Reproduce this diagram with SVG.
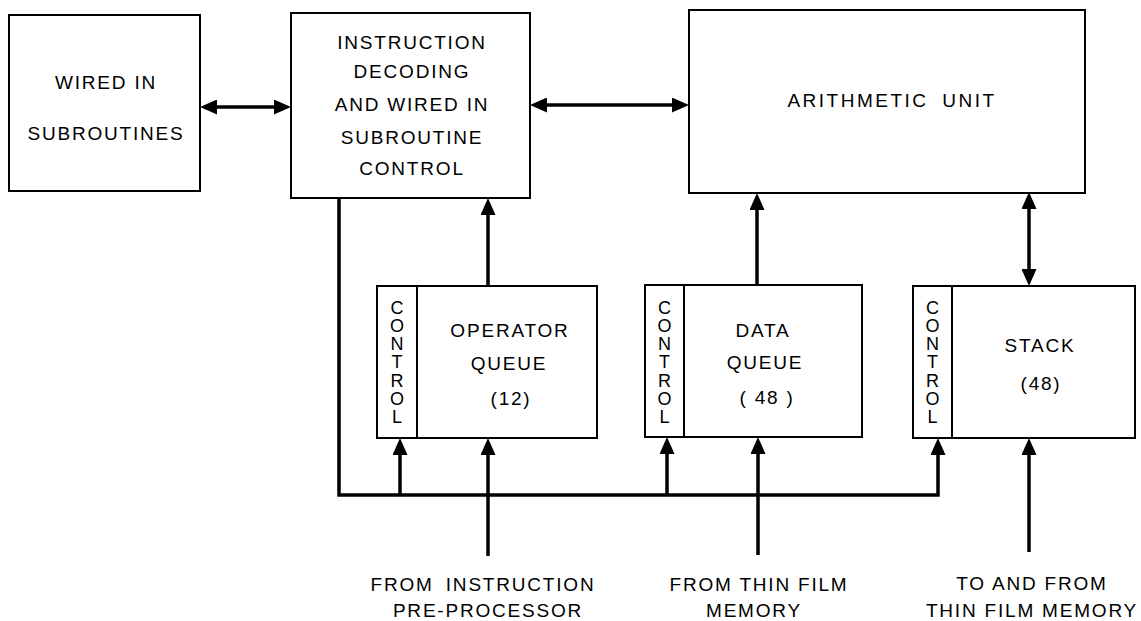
<svg xmlns="http://www.w3.org/2000/svg" width="1141" height="621" viewBox="0 0 1141 621">
<style>
  .box { fill: #ffffff; stroke: #000000; stroke-width: 2; }
  .t { font-family: "Liberation Sans", Arial, sans-serif; font-size: 19px; fill: #000000; text-anchor: middle; letter-spacing: 1.8px; }
  .c { font-family: "Liberation Sans", Arial, sans-serif; font-size: 18px; fill: #000000; text-anchor: middle; }
  .ln { fill: none; stroke: #000000; stroke-width: 3.5; stroke-linejoin: miter; }
  .arr { marker-end: url(#ah); }
  .dbl { marker-start: url(#ah); marker-end: url(#ah); }
</style>
<defs>
  <marker id="ah" viewBox="0 0 17 15" refX="8" refY="7.5" markerWidth="17" markerHeight="15" markerUnits="userSpaceOnUse" orient="auto-start-reverse">
    <path d="M0,0 L17,7.5 L0,15 Z" fill="#000000"/>
  </marker>
</defs>
<rect width="1141" height="621" fill="#ffffff"/>

<g id="connectors">
  <path class="ln dbl" d="M209 107 H282"/>
  <path class="ln dbl" d="M539 105 H680"/>
  <path class="ln arr" d="M488 286 V207"/>
  <path class="ln arr" d="M757 285 V202"/>
  <path class="ln dbl" d="M1029 201 V277"/>
  <path class="ln arr" d="M339 198 V495 H938 V447"/>
  <path class="ln arr" d="M400 495 V447"/>
  <path class="ln arr" d="M667 495 V446"/>
  <path class="ln arr" d="M488 556 V447"/>
  <path class="ln arr" d="M758 555 V446"/>
  <path class="ln arr" d="M1029 552 V447"/>
</g>

<g id="wired-in-subroutines">
  <rect class="box" x="9" y="15" width="191" height="176"/>
  <text class="t" x="106" y="89">WIRED IN</text>
  <text class="t" x="106" y="140">SUBROUTINES</text>
</g>

<g id="instruction-decoding">
  <rect class="box" x="291" y="13" width="239" height="185"/>
  <text class="t" x="412" y="49">INSTRUCTION</text>
  <text class="t" x="412" y="78">DECODING</text>
  <text class="t" x="412" y="111">AND WIRED IN</text>
  <text class="t" x="412" y="144">SUBROUTINE</text>
  <text class="t" x="412" y="175">CONTROL</text>
</g>

<g id="arithmetic-unit">
  <rect class="box" x="689" y="10" width="396" height="183"/>
  <text class="t" x="892" y="107" style="letter-spacing:2.5px; word-spacing:6px">ARITHMETIC UNIT</text>
</g>

<g id="operator-queue">
  <rect class="box" x="377" y="286" width="220" height="152"/>
  <line x1="417" y1="286" x2="417" y2="438" stroke="#000" stroke-width="2"/>
  <text class="c" x="397" y="313.5">C</text>
  <text class="c" x="397" y="331.8">O</text>
  <text class="c" x="397" y="350.1">N</text>
  <text class="c" x="397" y="368.4">T</text>
  <text class="c" x="397" y="386.7">R</text>
  <text class="c" x="397" y="405">O</text>
  <text class="c" x="397" y="423.3">L</text>
  <text class="t" x="510" y="337">OPERATOR</text>
  <text class="t" x="509" y="370">QUEUE</text>
  <text class="t" x="511" y="405">(12)</text>
</g>

<g id="data-queue">
  <rect class="box" x="645" y="285" width="217" height="152"/>
  <line x1="684" y1="285" x2="684" y2="437" stroke="#000" stroke-width="2"/>
  <text class="c" x="664.5" y="313.5">C</text>
  <text class="c" x="664.5" y="331.8">O</text>
  <text class="c" x="664.5" y="350.1">N</text>
  <text class="c" x="664.5" y="368.4">T</text>
  <text class="c" x="664.5" y="386.7">R</text>
  <text class="c" x="664.5" y="405">O</text>
  <text class="c" x="664.5" y="423.3">L</text>
  <text class="t" x="763" y="337">DATA</text>
  <text class="t" x="765" y="369">QUEUE</text>
  <text class="t" x="767" y="404">( 48 )</text>
</g>

<g id="stack">
  <rect class="box" x="913" y="286" width="222" height="152"/>
  <line x1="952" y1="286" x2="952" y2="438" stroke="#000" stroke-width="2"/>
  <text class="c" x="932.5" y="313.5">C</text>
  <text class="c" x="932.5" y="331.8">O</text>
  <text class="c" x="932.5" y="350.1">N</text>
  <text class="c" x="932.5" y="368.4">T</text>
  <text class="c" x="932.5" y="386.7">R</text>
  <text class="c" x="932.5" y="405">O</text>
  <text class="c" x="932.5" y="423.3">L</text>
  <text class="t" x="1040" y="352">STACK</text>
  <text class="t" x="1041" y="390">(48)</text>
</g>

<g id="labels">
  <text class="t" x="483" y="591" style="word-spacing:5px">FROM INSTRUCTION</text>
  <text class="t" x="488" y="617">PRE-PROCESSOR</text>
  <text class="t" x="759" y="591">FROM THIN FILM</text>
  <text class="t" x="754" y="617">MEMORY</text>
  <text class="t" x="1032" y="590">TO AND FROM</text>
  <text class="t" x="1032" y="617">THIN FILM MEMORY</text>
</g>
</svg>
